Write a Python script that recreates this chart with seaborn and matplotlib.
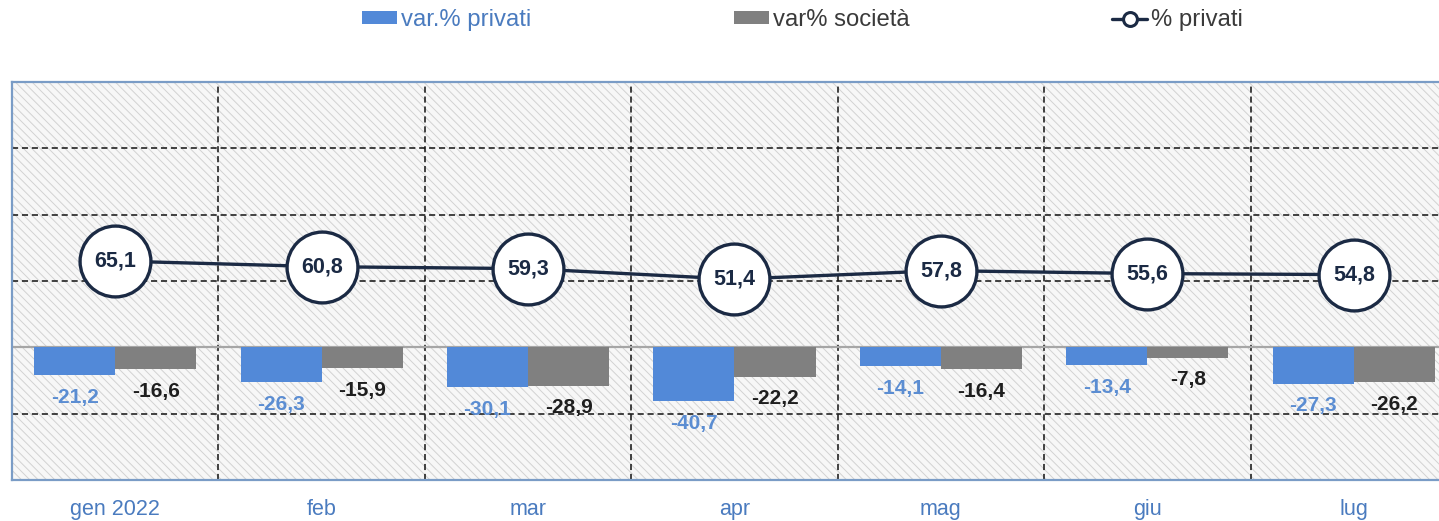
import pandas as pd
import matplotlib.pyplot as plt
import seaborn as sns
from matplotlib.patches import Rectangle, Patch
from matplotlib.lines import Line2D

# dati
mesi = ["gen 2022", "feb", "mar", "apr", "mag", "giu", "lug"]
var_privati = [-21.2, -26.3, -30.1, -40.7, -14.1, -13.4, -27.3]
var_societa = [-16.6, -15.9, -28.9, -22.2, -16.4, -7.8, -26.2]
quota_privati = [65.1, 60.8, 59.3, 51.4, 57.8, 55.6, 54.8]
serie = ["var.% privati", "var% società", "% privati"]

blu = "#5289d8"
grigio = "#808080"
navy = "#1b2a44"

sns.set_style("white")
plt.rcParams["font.family"] = ["Liberation Sans", "DejaVu Sans"]
plt.rcParams["hatch.color"] = "#d2d2d2"
plt.rcParams["hatch.linewidth"] = 0.7

def virgola(v):
    return f"{v:.1f}".replace(".", ",")

df_bar = pd.DataFrame({
    "mese": mesi * 2,
    "serie": [serie[0]] * len(mesi) + [serie[1]] * len(mesi),
    "valore": var_privati + var_societa,
})
df_line = pd.DataFrame({"mese": mesi, "valore": quota_privati})

fig = plt.figure(figsize=(14.39, 5.21), dpi=100)
ax = fig.add_axes([12 / 1439, 41 / 521, 1445 / 1439, 398 / 521])

# sfondo tratteggiato
ax.add_patch(Rectangle((0, 0), 1, 1, transform=ax.transAxes, facecolor="#f7f7f7",
                       edgecolor="#d2d2d2", hatch="\\\\\\\\", lw=0, zorder=0))

sns.barplot(data=df_bar, x="mese", y="valore", hue="serie", palette=[blu, grigio],
            width=0.785, saturation=1, legend=False, linewidth=0, ax=ax, zorder=2)

for cont, vals, col in zip(ax.containers, [var_privati, var_societa], ["#5b8dd2", "#1e1e1e"]):
    ax.bar_label(cont, labels=[virgola(v) for v in vals], padding=9, color=col,
                 fontsize=15, fontweight="bold")

sns.pointplot(data=df_line, x="mese", y="valore", color=navy, markers="o",
              markersize=51, markerfacecolor="white", markeredgecolor=navy,
              markeredgewidth=2.4, linewidth=2.4, errorbar=None, ax=ax, zorder=4)

for i, v in enumerate(quota_privati):
    ax.text(i, v, virgola(v), ha="center", va="center", color=navy,
            fontsize=15.5, fontweight="bold", zorder=5)

ax.set_ylim(-100, 200)
ax.set_xlim(-0.5, 6.5)
ax.set_yticks([-50, 50, 100, 150])
ax.set_yticklabels([])
ax.set_xticks([i - 0.5 for i in range(1, 7)], minor=True)
ax.grid(axis="y", which="major", color="#111111", linestyle=(0, (4, 2.5)), lw=1.1)
ax.grid(axis="x", which="minor", color="#111111", linestyle=(0, (4, 2.5)), lw=1.1)
ax.grid(axis="x", which="major", visible=False)
ax.axhline(0, color="#a6a6a6", lw=1.6, zorder=1.5)
ax.set_axisbelow(True)

ax.tick_params(axis="x", which="both", length=0, pad=14, labelsize=15.5, labelcolor="#4a7bbf")
ax.tick_params(axis="y", length=0)
ax.set_xlabel("")
ax.set_ylabel("")
for s in ax.spines.values():
    s.set_color("#7a9cc6")
    s.set_linewidth(1.6)

handles = [
    Patch(facecolor=blu, edgecolor="none"),
    Patch(facecolor=grigio, edgecolor="none"),
    Line2D([], [], color=navy, lw=2.4, marker="o", markersize=10,
           markerfacecolor="white", markeredgewidth=2.2),
]
leg = fig.legend(handles, serie, loc="center left", bbox_to_anchor=(362 / 1439, 1 - 20 / 521),
                 ncol=3, frameon=False, fontsize=17.2, handlelength=1.46, handleheight=0.41,
                 handletextpad=0.16, columnspacing=8.5, borderpad=0, borderaxespad=0)
for t, c in zip(leg.get_texts(), ["#4a7bbf", "#3a3a3a", "#3a3a3a"]):
    t.set_color(c)

fig.savefig("out.png", dpi=100)
